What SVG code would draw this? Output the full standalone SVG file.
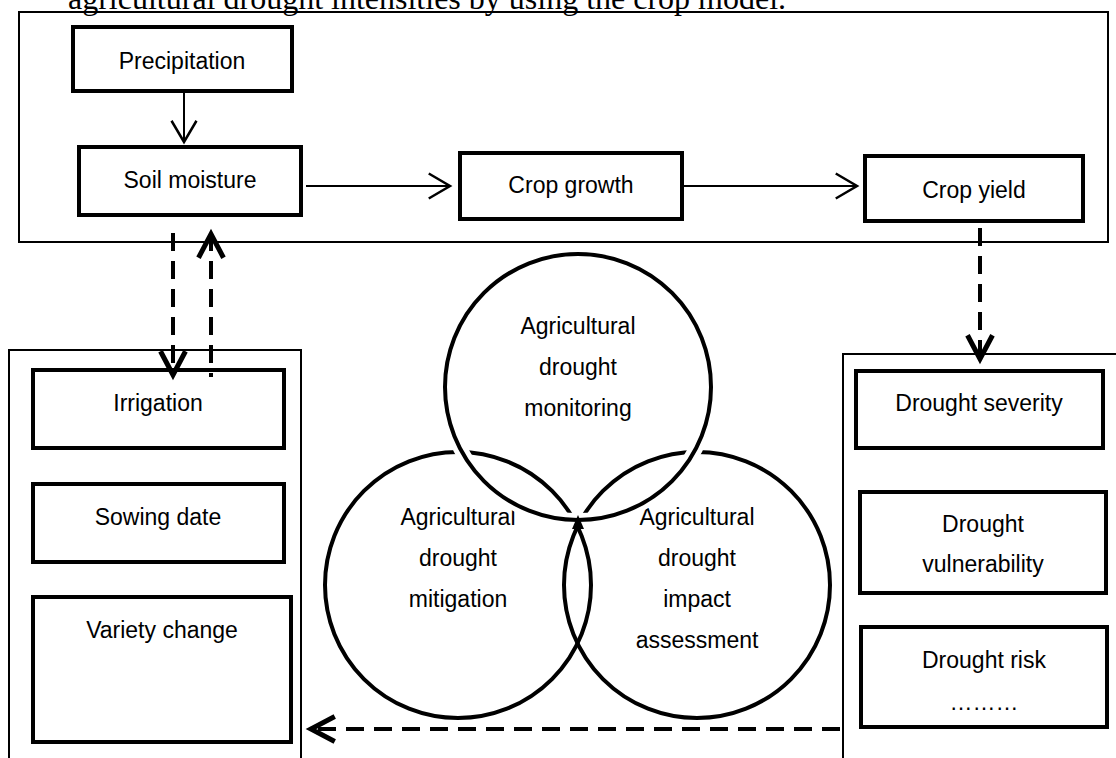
<svg xmlns="http://www.w3.org/2000/svg" width="1116" height="758" viewBox="0 0 1116 758">
<style>
.t{font-family:"Liberation Sans",Arial,sans-serif;font-size:23px;fill:#000;text-anchor:middle}
.box{fill:#fff;stroke:#000;stroke-width:4}
.outer{fill:none;stroke:#000;stroke-width:2}
.circ{fill:none;stroke:#000;stroke-width:4}
.halo{fill:none;stroke:#fff;stroke-width:14}
.solid{fill:none;stroke:#000;stroke-width:2}
.dash{fill:none;stroke:#000;stroke-width:4;stroke-dasharray:18 10}
</style>
<defs>
<marker id="ah" markerUnits="userSpaceOnUse" markerWidth="30" markerHeight="30" refX="0" refY="0" viewBox="-20 -12 22 24" orient="auto" overflow="visible">
<path d="M-17,-10 L0,0 L-17,10" fill="none" stroke="#000" stroke-width="2" stroke-dasharray="none"/>
</marker>
<marker id="ahb" markerUnits="userSpaceOnUse" markerWidth="30" markerHeight="30" refX="0" refY="0" viewBox="-22 -12 24 24" orient="auto" overflow="visible">
<path d="M-19,-10 L0,0 L-19,10" fill="none" stroke="#000" stroke-width="4" stroke-dasharray="none"/>
</marker>
</defs>
<rect width="1116" height="758" fill="#fff"/>
<text x="68" y="9" style="font-family:'Liberation Serif','Times New Roman',serif;font-size:32px">agricultural drought intensities by using the crop model.</text>

<g id="model-frame"><rect class="outer" x="19" y="12" width="1089" height="230"/></g>
<g id="mitigation-frame"><path class="outer" d="M9,760 V350 H301 V760"/></g>
<g id="impact-frame"><path class="outer" d="M843,760 V354 H1118"/></g>

<g id="precipitation"><rect class="box" x="73" y="27" width="219" height="64"/><text class="t" x="182" y="69">Precipitation</text></g>
<g id="soil-moisture"><rect class="box" x="79" y="147" width="222" height="68"/><text class="t" x="190" y="188">Soil moisture</text></g>
<g id="crop-growth"><rect class="box" x="460" y="153" width="222" height="66"/><text class="t" x="571" y="193">Crop growth</text></g>
<g id="crop-yield"><rect class="box" x="865" y="156" width="218" height="65"/><text class="t" x="974" y="198">Crop yield</text></g>

<g id="irrigation"><rect class="box" x="33" y="370" width="251" height="78"/><text class="t" x="158" y="411">Irrigation</text></g>
<g id="sowing-date"><rect class="box" x="33" y="484" width="251" height="78"/><text class="t" x="158" y="525">Sowing date</text></g>
<g id="variety-change"><rect class="box" x="33" y="597" width="258" height="145"/><text class="t" x="162" y="638">Variety change</text></g>

<g id="drought-severity"><rect class="box" x="856" y="371" width="247" height="77"/><text class="t" x="979" y="411">Drought severity</text></g>
<g id="drought-vulnerability"><rect class="box" x="860" y="492" width="246" height="101"/><text class="t" x="983" y="532">Drought</text><text class="t" x="983" y="572">vulnerability</text></g>
<g id="drought-risk"><rect class="box" x="861" y="627" width="246" height="100"/><text class="t" x="984" y="668">Drought risk</text><text class="t" x="984" y="710">………</text></g>

<g id="mitigation-circle"><circle class="circ" cx="458" cy="585" r="133"/><text class="t" x="458" y="525">Agricultural</text><text class="t" x="458" y="566">drought</text><text class="t" x="458" y="607">mitigation</text></g>
<g id="impact-circle"><circle class="circ" cx="697" cy="585" r="133"/><text class="t" x="697" y="525">Agricultural</text><text class="t" x="697" y="566">drought</text><text class="t" x="697" y="607">impact</text><text class="t" x="697" y="648">assessment</text></g>
<g id="monitoring-circle"><circle class="halo" cx="578" cy="387" r="133"/><circle class="circ" cx="578" cy="387" r="133"/><path d="M572,529 L578,515 L584,529 Z" fill="#000"/><text class="t" x="578" y="334">Agricultural</text><text class="t" x="578" y="375">drought</text><text class="t" x="578" y="416">monitoring</text></g>

<g id="connectors">
<line class="solid" x1="184" y1="91" x2="184" y2="142" marker-end="url(#ah)"/>
<line class="solid" x1="306" y1="186" x2="450" y2="186" marker-end="url(#ah)"/>
<line class="solid" x1="684" y1="186" x2="857" y2="186" marker-end="url(#ah)"/>
<line class="dash" x1="173" y1="233" x2="173" y2="375" marker-end="url(#ahb)"/>
<line class="dash" x1="211" y1="377" x2="211" y2="234" stroke-dashoffset="14" marker-end="url(#ahb)"/>
<line class="dash" x1="980" y1="228" x2="980" y2="359" marker-end="url(#ahb)"/>
<line class="dash" x1="840" y1="729" x2="311" y2="729" marker-end="url(#ahb)"/>
</g>
</svg>
